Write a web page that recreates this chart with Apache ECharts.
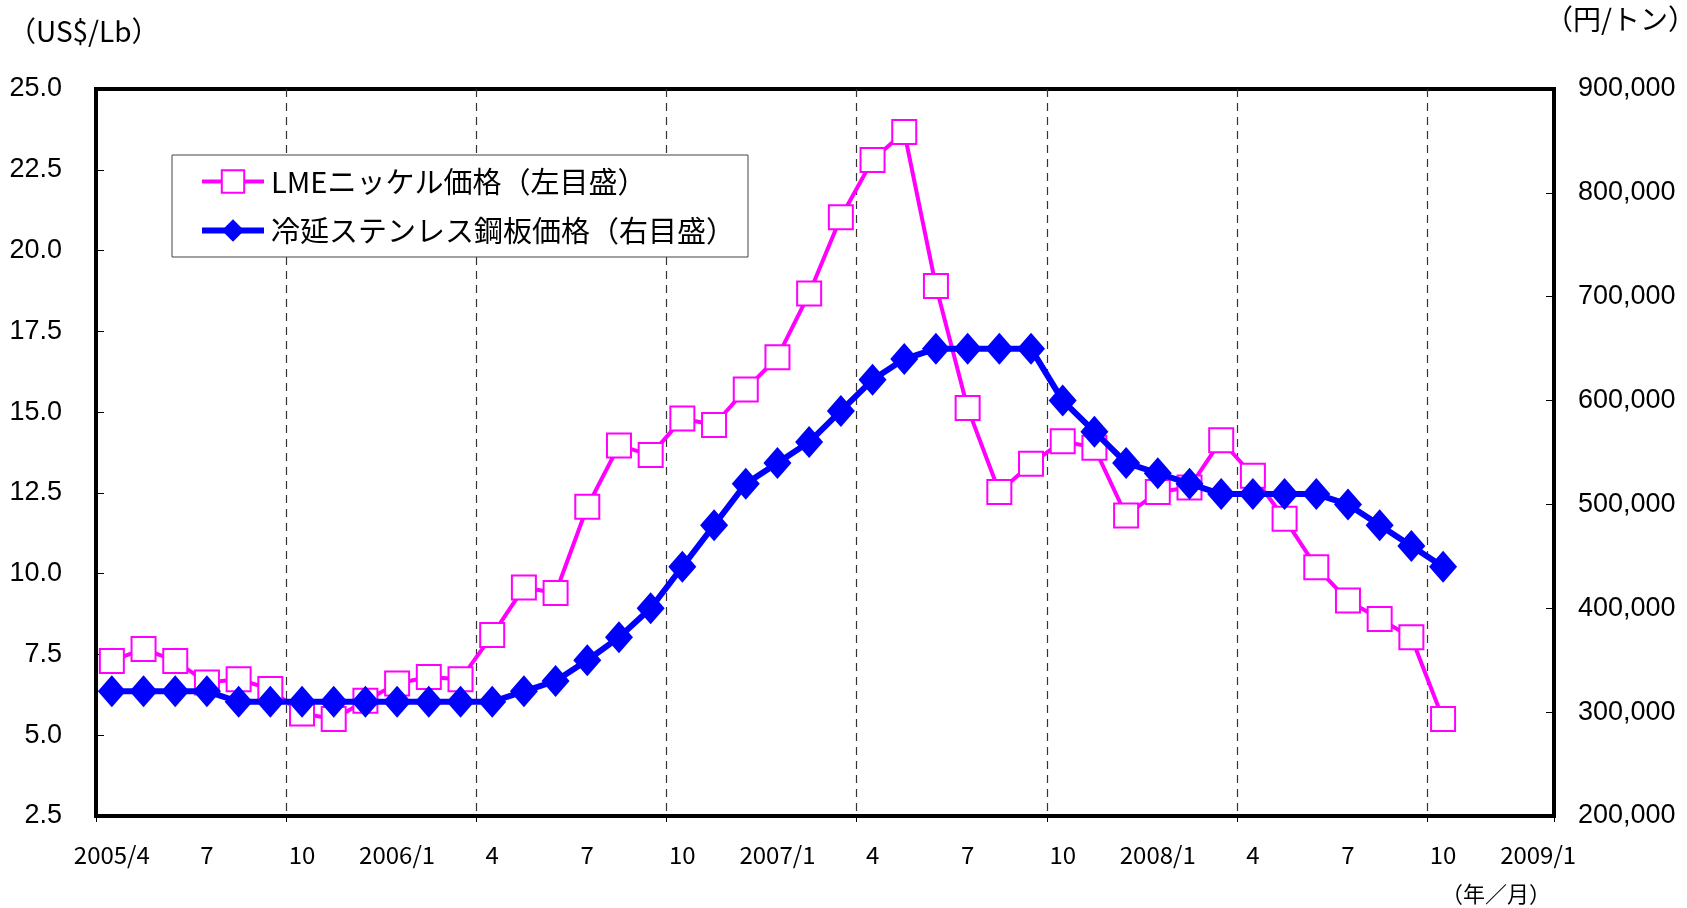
<!DOCTYPE html>
<html>
<head>
<meta charset="utf-8">
<style>
  html, body { margin: 0; padding: 0; background: #fff; }
  #main { width: 1687px; height: 908px; }
</style>
<script src="https://cdn.jsdelivr.net/npm/echarts@6/dist/echarts.min.js"></script>
</head>
<body>
<div id="main"></div>
<script>
// 2005/4 .. 2009/1
const categories = [
  '2005/4', '2005/5', '2005/6', '2005/7', '2005/8', '2005/9', '2005/10', '2005/11', '2005/12',
  '2006/1', '2006/2', '2006/3', '2006/4', '2006/5', '2006/6', '2006/7', '2006/8', '2006/9', '2006/10', '2006/11', '2006/12',
  '2007/1', '2007/2', '2007/3', '2007/4', '2007/5', '2007/6', '2007/7', '2007/8', '2007/9', '2007/10', '2007/11', '2007/12',
  '2008/1', '2008/2', '2008/3', '2008/4', '2008/5', '2008/6', '2008/7', '2008/8', '2008/9', '2008/10', '2008/11', '2008/12',
  '2009/1'
]

// LME nickel, US$/Lb (left)
const nickel = [
  7.3, 7.67, 7.3, 6.63, 6.73, 6.43, 5.67, 5.5, 6.07,
  6.6, 6.8, 6.73, 8.1, 9.57, 9.4, 12.07, 13.97, 13.67, 14.8, 14.6, 15.7,
  16.7, 18.67, 21.03, 22.8, 23.67, 18.9, 15.13, 12.53, 13.4, 14.1, 13.9, 11.8,
  12.53, 12.67, 14.13, 13.03, 11.7, 10.2, 9.17, 8.6, 8.03, 5.5
]

// cold-rolled stainless sheet, yen/ton (right)
const stainless = [
  320000, 320000, 320000, 320000, 310000, 310000, 310000, 310000, 310000,
  310000, 310000, 310000, 310000, 320000, 330000, 350000, 372000, 400000, 440000, 480000, 520000,
  540000, 560000, 590000, 620000, 640000, 650000, 650000, 650000, 650000, 600000, 570000, 540000,
  530000, 520000, 510000, 510000, 510000, 510000, 500000, 480000, 460000, 440000
]

const seriesNames = ['LMEニッケル価格（左目盛）', '冷延ステンレス鋼板価格（右目盛）']

const pink = '#ff00ff'
const blue = '#0000ff'
const numFont = "'Liberation Sans', Arial, sans-serif"
const jpFont = "'Noto Sans CJK JP', sans-serif"

const chart = echarts.init(document.getElementById('main'))
chart.setOption({
  animation: false,
  backgroundColor: '#fff',
  grid: {
    left: 96,
    right: 133,
    top: 89,
    bottom: 92,
    show: true,
    borderColor: '#000',
    borderWidth: 4
  },
  legend: {
    left: 172,
    top: 155,
    orient: 'vertical',
    data: [
      {
        name: seriesNames[0],
        lineStyle: { width: 4, color: pink },
        itemStyle: { color: '#fff', borderColor: pink, borderWidth: 2 }
      },
      {
        name: seriesNames[1],
        lineStyle: { width: 6, color: blue },
        itemStyle: { color: blue, borderWidth: 0 }
      }
    ],
    itemWidth: 62,
    itemHeight: 28,
    itemGap: 20,
    padding: [12, 13, 12, 27],
    borderColor: '#444',
    borderWidth: 1,
    backgroundColor: '#fff',
    borderRadius: 0,
    textStyle: { fontFamily: jpFont, fontSize: 29, color: '#000', padding: [0, 0, 0, 2] }
  },
  graphic: [
    { type: 'text', left: 8, top: 17, style: { text: '（US$/Lb）', font: '28px ' + jpFont, fill: '#000' } },
    { type: 'text', left: 1545, top: 5, style: { text: '（円/トン）', font: '28px ' + jpFont, fill: '#000' } },
    { type: 'text', left: 1441, top: 883, style: { text: '（年／月）', font: '22px ' + jpFont, fill: '#000' } }
  ],
  xAxis: {
    type: 'category',
    data: categories,
    boundaryGap: true,
    axisLine: { lineStyle: { color: '#000', width: 4 } },
    axisTick: {
      show: true,
      interval: i => i % 6 === 0,
      length: 6,
      lineStyle: { color: '#000', width: 1 }
    },
    axisLabel: {
      interval: i => i % 3 === 0,
      formatter: v => {
        const m = v.split('/')[1]
        return (m === '1' || v === categories[0]) ? v : m
      },
      margin: 27,
      fontFamily: jpFont,
      fontSize: 24,
      color: '#000'
    },
    splitLine: {
      show: true,
      interval: i => i % 6 === 0 && i > 0,
      lineStyle: { color: '#333', width: 1.2, type: [8, 6] }
    }
  },
  yAxis: [
    {
      type: 'value',
      min: 2.5,
      max: 25,
      interval: 2.5,
      axisLine: { show: true, lineStyle: { color: '#000', width: 4 } },
      axisTick: { show: true, inside: true, length: 8, lineStyle: { color: '#000', width: 1 } },
      axisLabel: { formatter: v => v.toFixed(1), margin: 34, fontFamily: numFont, fontSize: 27, color: '#000' },
      splitLine: { show: false }
    },
    {
      type: 'value',
      position: 'right',
      min: 200000,
      max: 900000,
      interval: 100000,
      axisLine: { show: true, lineStyle: { color: '#000', width: 4 } },
      axisTick: { show: true, inside: true, length: 8, lineStyle: { color: '#000', width: 1 } },
      axisLabel: {
        formatter: v => v.toLocaleString('en-US'),
        margin: 24,
        fontFamily: numFont,
        fontSize: 27,
        color: '#000'
      },
      splitLine: { show: false }
    }
  ],
  series: [
    {
      name: seriesNames[0],
      type: 'line',
      yAxisIndex: 0,
      data: nickel,
      symbol: 'rect',
      symbolSize: 24,
      showAllSymbol: true,
      lineStyle: { color: pink, width: 4 },
      itemStyle: { color: '#fff', borderColor: pink, borderWidth: 2 },
      z: 2
    },
    {
      name: seriesNames[1],
      type: 'line',
      yAxisIndex: 1,
      data: stainless,
      symbol: 'diamond',
      symbolSize: [28, 32],
      showAllSymbol: true,
      lineStyle: { color: blue, width: 6 },
      itemStyle: { color: blue, borderWidth: 0 },
      z: 3
    }
  ]
})
</script>
</body>
</html>
